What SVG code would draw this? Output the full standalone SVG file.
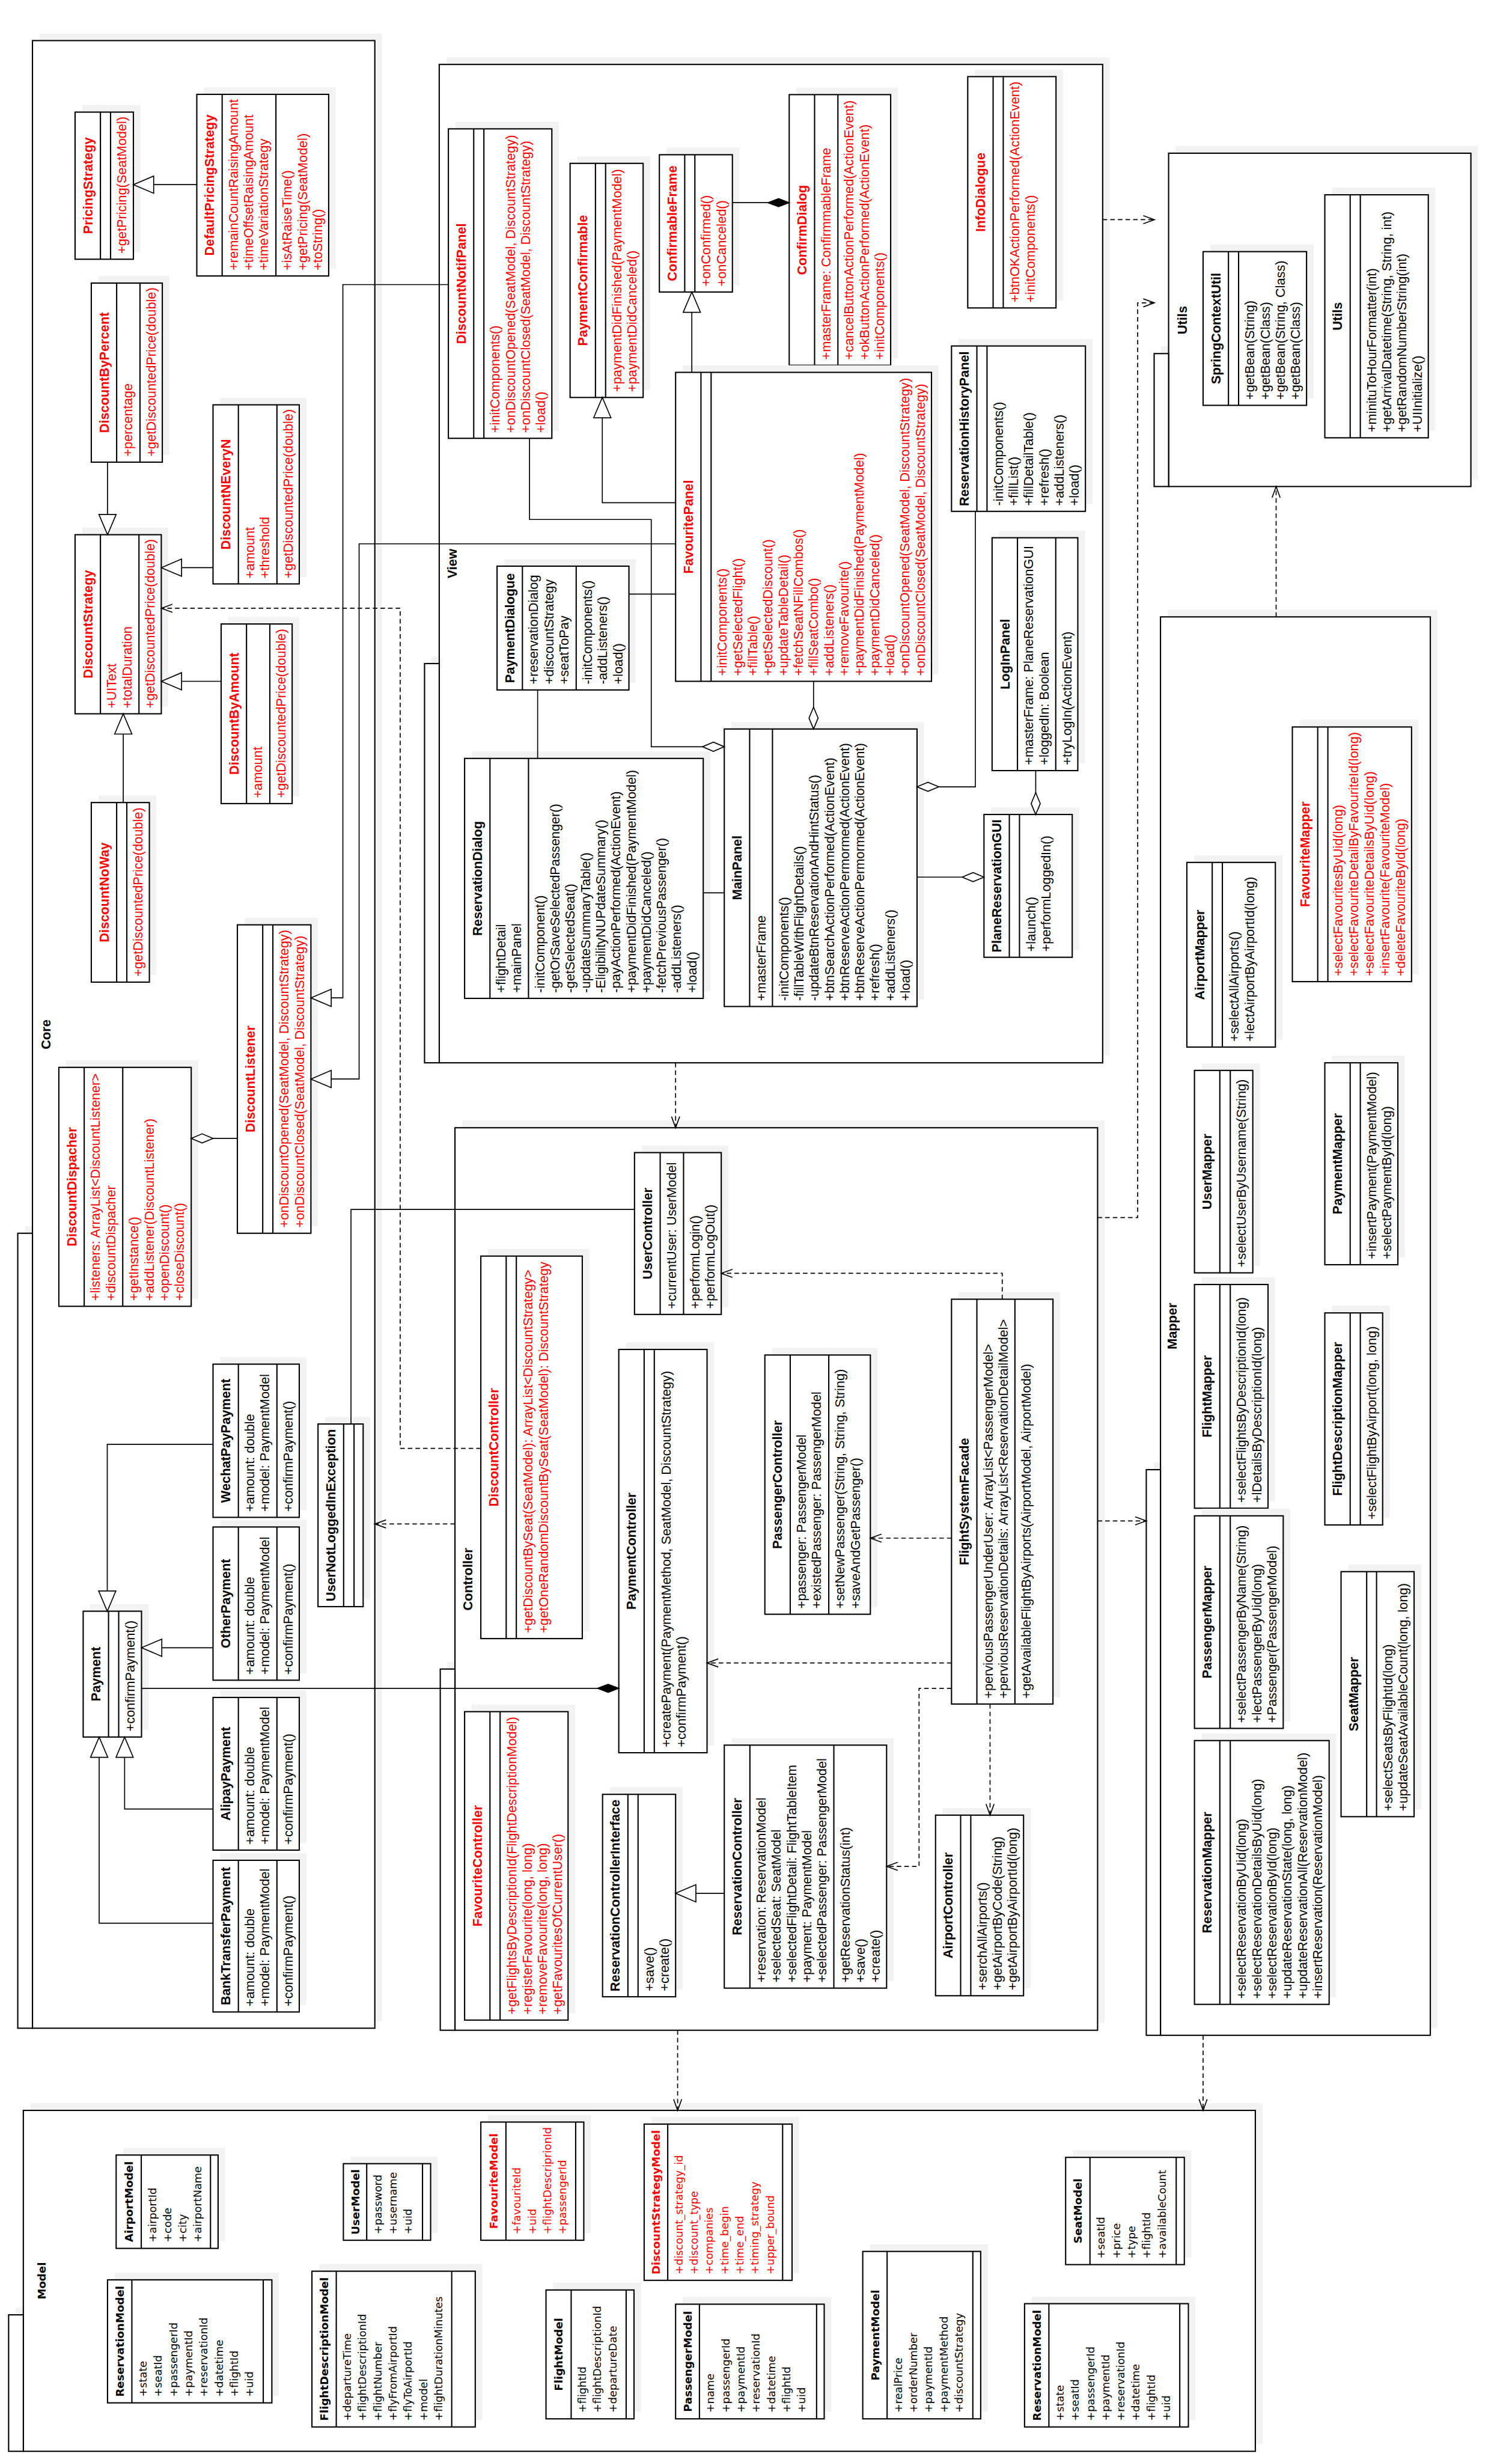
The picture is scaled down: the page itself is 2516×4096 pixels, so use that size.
<svg xmlns="http://www.w3.org/2000/svg" width="2516" height="4096" viewBox="0 0 2516 4096">
<defs>
<style>
.pk{fill:#fff;stroke:#000;stroke-width:2.5}
.sh{fill:#f2f2f2}
.bx{fill:#fff;stroke:#000;stroke-width:2.5}
.dv{fill:none;stroke:#000;stroke-width:2.5}
.n{font-family:"Liberation Sans",Arial,sans-serif;font-size:25.8px;font-weight:bold;text-anchor:middle}
.t{font-family:"Liberation Sans",Arial,sans-serif;font-size:25.8px}
.mn{font-family:"DejaVu Sans",sans-serif;font-size:21.5px;font-weight:bold;text-anchor:middle}
.mt{font-family:"DejaVu Sans",sans-serif;font-size:21px}
.r{fill:#f00}
.ln{fill:none;stroke:#000;stroke-width:2}
.ds{stroke-dasharray:9 6}
</style>
<marker id="tri" markerUnits="userSpaceOnUse" markerWidth="60" markerHeight="60" refX="40" refY="0" orient="auto" overflow="visible"><path d="M0-17L40 0L0 17Z" fill="#fff" stroke="#000" stroke-width="2"/></marker>
<marker id="dia" markerUnits="userSpaceOnUse" markerWidth="60" markerHeight="60" refX="43" refY="0" orient="auto" overflow="visible"><path d="M0 0L21.5-9L43 0L21.5 9Z" fill="#fff" stroke="#000" stroke-width="2"/></marker>
<marker id="fdia" markerUnits="userSpaceOnUse" markerWidth="60" markerHeight="60" refX="42" refY="0" orient="auto" overflow="visible"><path d="M0 0L21-8L42 0L21 8Z" fill="#000" stroke="#000" stroke-width="2"/></marker>
<marker id="arr" markerUnits="userSpaceOnUse" markerWidth="60" markerHeight="60" refX="22" refY="0" orient="auto" overflow="visible"><path d="M0-8L22 0L0 8" fill="none" stroke="#000" stroke-width="2"/></marker>
</defs>
<rect width="2516" height="4096" fill="#fff"/>
<g transform="scale(0.844)">
<g id="packages">
<rect class="sh" x="78" y="66" width="675" height="3918"/><rect class="sh" x="49" y="2417" width="29" height="1567"/>
<rect class="pk" x="64" y="80" width="675" height="3918"/><rect class="pk" x="35" y="2431" width="29" height="1567"/>
<text class="n" transform="translate(64 3998) rotate(-90)" x="1959" y="35">Core</text>
<rect class="sh" x="880" y="113" width="1308" height="1968"/><rect class="sh" x="851" y="1294" width="29" height="787"/>
<rect class="pk" x="866" y="127" width="1308" height="1968"/><rect class="pk" x="837" y="1308" width="29" height="787"/>
<text class="n" transform="translate(866 2095) rotate(-90)" x="984" y="34">View</text>
<rect class="sh" x="911" y="2209" width="1267" height="1779"/><rect class="sh" x="882" y="3276" width="29" height="712"/>
<rect class="pk" x="897" y="2223" width="1267" height="1779"/><rect class="pk" x="868" y="3290" width="29" height="712"/>
<text class="n" transform="translate(897 4002) rotate(-90)" x="889" y="34">Controller</text>
<rect class="sh" x="2318" y="288" width="596" height="657"/><rect class="sh" x="2289" y="683" width="29" height="262"/>
<rect class="pk" x="2304" y="302" width="596" height="657"/><rect class="pk" x="2275.5" y="697" width="28.5" height="262"/>
<text class="n" transform="translate(2304 959) rotate(-90)" x="328" y="36">Utils</text>
<rect class="sh" x="2302" y="1202" width="532" height="2796"/><rect class="sh" x="2274" y="2883" width="28" height="1115"/>
<rect class="pk" x="2288" y="1216" width="532" height="2796"/><rect class="pk" x="2260" y="2897" width="28" height="1115"/>
<text class="n" transform="translate(2288 4012) rotate(-90)" x="1398" y="32">Mapper</text>
<rect class="sh" x="60" y="4146" width="2429" height="672"/><rect class="sh" x="31" y="4549" width="29" height="269"/>
<rect class="pk" x="46" y="4160" width="2429" height="672"/><rect class="pk" x="17" y="4563" width="29" height="269"/>
<text class="mn" transform="translate(46 4832) rotate(-90)" x="336" y="44">Model</text>
</g>

<g id="PricingStrategy" transform="translate(148 511) rotate(-90)"><rect class="sh" x="14" y="14" width="290" height="115"/><rect class="bx" width="290" height="115"/><path class="dv" d="M0 50H290M0 70H290"/>
<text class="n r" x="145" y="34">PricingStrategy</text><text class="t r" x="11" y="101">+getPricing(SeatModel)</text></g>

<g id="DefaultPricingStrategy" transform="translate(388 544) rotate(-90)"><rect class="sh" x="14" y="14" width="358" height="260"/><rect class="bx" width="358" height="260"/><path class="dv" d="M0 50H358M0 156H358"/>
<text class="n r" x="179" y="34">DefaultPricingStrategy</text>
<text class="t r" x="11" y="81">+remainCountRaisingAmount</text><text class="t r" x="11" y="111">+timeOffsetRaisingAmount</text><text class="t r" x="11" y="141">+timeVariationStrategy</text>
<text class="t r" x="11" y="187">+isAtRaiseTime()</text><text class="t r" x="11" y="217">+getPricing(SeatModel)</text><text class="t r" x="11" y="247">+toString()</text></g>

<g id="DiscountByPercent" transform="translate(180 911) rotate(-90)"><rect class="sh" x="14" y="14" width="353" height="140"/><rect class="bx" width="353" height="140"/><path class="dv" d="M0 50H353M0 96H353"/>
<text class="n r" x="176.5" y="34">DiscountByPercent</text><text class="t r" x="11" y="81">+percentage</text><text class="t r" x="11" y="127">+getDiscountedPrice(double)</text></g>

<g id="DiscountNEveryN" transform="translate(420 1151) rotate(-90)"><rect class="sh" x="14" y="14" width="353" height="170"/><rect class="bx" width="353" height="170"/><path class="dv" d="M0 50H353M0 126H353"/>
<text class="n r" x="176.5" y="34">DiscountNEveryN</text><text class="t r" x="11" y="81">+amount</text><text class="t r" x="11" y="111">+threshold</text><text class="t r" x="11" y="157">+getDiscountedPrice(double)</text></g>

<g id="DiscountStrategy" transform="translate(148 1407) rotate(-90)"><rect class="sh" x="14" y="14" width="353" height="170"/><rect class="bx" width="353" height="170"/><path class="dv" d="M0 50H353M0 126H353"/>
<text class="n r" x="176.5" y="34">DiscountStrategy</text><text class="t r" x="11" y="81">+UIText</text><text class="t r" x="11" y="111">+totalDuration</text><text class="t r" x="11" y="157">+getDiscountedPrice(double)</text></g>

<g id="DiscountByAmount" transform="translate(436 1584) rotate(-90)"><rect class="sh" x="14" y="14" width="354" height="140"/><rect class="bx" width="354" height="140"/><path class="dv" d="M0 50H354M0 96H354"/>
<text class="n r" x="177" y="34">DiscountByAmount</text><text class="t r" x="11" y="81">+amount</text><text class="t r" x="11" y="127">+getDiscountedPrice(double)</text></g>

<g id="DiscountNoWay" transform="translate(180 1936) rotate(-90)"><rect class="sh" x="14" y="14" width="354" height="114.5"/><rect class="bx" width="354" height="114.5"/><path class="dv" d="M0 50H354M0 70H354"/>
<text class="n r" x="177" y="34">DiscountNoWay</text><text class="t r" x="11" y="101">+getDiscountedPrice(double)</text></g>

<g id="DiscountListener" transform="translate(468 2431) rotate(-90)"><rect class="sh" x="14" y="14" width="608" height="145"/><rect class="bx" width="608" height="145"/><path class="dv" d="M0 50H608M0 70H608"/>
<text class="n r" x="304" y="34">DiscountListener</text><text class="t r" x="11" y="101">+onDiscountOpened(SeatModel, DiscountStrategy)</text><text class="t r" x="11" y="131">+onDiscountClosed(SeatModel, DiscountStrategy)</text></g>

<g id="DiscountDispacher" transform="translate(116 2575) rotate(-90)"><rect class="sh" x="14" y="14" width="471" height="261"/><rect class="bx" width="471" height="261"/><path class="dv" d="M0 50H471M0 126H471"/>
<text class="n r" x="235.5" y="34">DiscountDispacher</text><text class="t r" x="11" y="81">+listeners: ArrayList&lt;DiscountListener&gt;</text><text class="t r" x="11" y="111">+discountDispacher</text>
<text class="t r" x="11" y="157">+getInstance()</text><text class="t r" x="11" y="187">+addListener(DiscountListener)</text><text class="t r" x="11" y="217">+openDiscount()</text><text class="t r" x="11" y="247">+closeDiscount()</text></g>

<g id="Payment" transform="translate(164 3424) rotate(-90)"><rect class="sh" x="14" y="14" width="248" height="115"/><rect class="bx" width="248" height="115"/><path class="dv" d="M0 50H248M0 70H248"/>
<text class="n" x="124" y="34">Payment</text><text class="t" x="11" y="101">+confirmPayment()</text></g>

<g id="WechatPayPayment" transform="translate(420 2991) rotate(-90)"><rect class="sh" x="14" y="14" width="302" height="170"/><rect class="bx" width="302" height="170"/><path class="dv" d="M0 50H302M0 126H302"/>
<text class="n" x="151" y="34">WechatPayPayment</text><text class="t" x="11" y="81">+amount: double</text><text class="t" x="11" y="111">+model: PaymentModel</text><text class="t" x="11" y="157">+confirmPayment()</text></g>

<g id="OtherPayment" transform="translate(420 3312) rotate(-90)"><rect class="sh" x="14" y="14" width="302" height="170"/><rect class="bx" width="302" height="170"/><path class="dv" d="M0 50H302M0 126H302"/>
<text class="n" x="151" y="34">OtherPayment</text><text class="t" x="11" y="81">+amount: double</text><text class="t" x="11" y="111">+model: PaymentModel</text><text class="t" x="11" y="157">+confirmPayment()</text></g>

<g id="AlipayPayment" transform="translate(420 3647) rotate(-90)"><rect class="sh" x="14" y="14" width="301" height="170"/><rect class="bx" width="301" height="170"/><path class="dv" d="M0 50H301M0 126H301"/>
<text class="n" x="150.5" y="34">AlipayPayment</text><text class="t" x="11" y="81">+amount: double</text><text class="t" x="11" y="111">+model: PaymentModel</text><text class="t" x="11" y="157">+confirmPayment()</text></g>

<g id="BankTransferPayment" transform="translate(420 3966) rotate(-90)"><rect class="sh" x="14" y="14" width="299" height="170"/><rect class="bx" width="299" height="170"/><path class="dv" d="M0 50H299M0 126H299"/>
<text class="n" x="149.5" y="34">BankTransferPayment</text><text class="t" x="11" y="81">+amount: double</text><text class="t" x="11" y="111">+model: PaymentModel</text><text class="t" x="11" y="157">+confirmPayment()</text></g>

<g id="UserNotLoggedInException" transform="translate(627 3167) rotate(-90)"><rect class="sh" x="14" y="14" width="360" height="89"/><rect class="bx" width="360" height="89"/><path class="dv" d="M0 50.5H360M0 71H360"/>
<text class="n" x="180" y="34">UserNotLoggedInException</text></g>

<g id="DiscountNotifPanel" transform="translate(884 864) rotate(-90)"><rect class="sh" x="14" y="14" width="610" height="204"/><rect class="bx" width="610" height="204"/><path class="dv" d="M0 50H610M0 70H610"/>
<text class="n r" x="305" y="34">DiscountNotifPanel</text><text class="t r" x="11" y="101">+initComponents()</text><text class="t r" x="11" y="131">+onDiscountOpened(SeatModel, DiscountStrategy)</text><text class="t r" x="11" y="161">+onDiscountClosed(SeatModel, DiscountStrategy)</text><text class="t r" x="11" y="191">+load()</text></g>

<g id="PaymentConfirmable" transform="translate(1124 783.5) rotate(-90)"><rect class="sh" x="14" y="14" width="461.5" height="144"/><rect class="bx" width="461.5" height="144"/><path class="dv" d="M0 50H461.5M0 70H461.5"/>
<text class="n r" x="230.7" y="34">PaymentConfirmable</text><text class="t r" x="11" y="101">+paymentDidFinished(PaymentModel)</text><text class="t r" x="11" y="131">+paymentDidCanceled()</text></g>

<g id="ConfirmableFrame" transform="translate(1300 575.6) rotate(-90)"><rect class="sh" x="14" y="14" width="270.6" height="144"/><rect class="bx" width="270.6" height="144"/><path class="dv" d="M0 50H270.6M0 70H270.6"/>
<text class="n r" x="135.3" y="34">ConfirmableFrame</text><text class="t r" x="11" y="101">+onConfirmed()</text><text class="t r" x="11" y="131">+onCanceled()</text></g>

<g id="ConfirmDialog" transform="translate(1556 720) rotate(-90)"><rect class="sh" x="14" y="14" width="533.5" height="200"/><rect class="bx" width="533.5" height="200"/><path class="dv" d="M0 50H533.5M0 96H533.5"/>
<text class="n r" x="266.7" y="34">ConfirmDialog</text><text class="t r" x="11" y="81">+masterFrame: ConfirmmableFrame</text>
<text class="t r" x="11" y="127">+cancelButtonActionPerformed(ActionEvent)</text><text class="t r" x="11" y="157">+okButtonActionPerformed(ActionEvent)</text><text class="t r" x="11" y="187">+initComponents()</text></g>

<g id="InfoDialogue" transform="translate(1908 607) rotate(-90)"><rect class="sh" x="14" y="14" width="456" height="174"/><rect class="bx" width="456" height="174"/><path class="dv" d="M0 50H456M0 70H456"/>
<text class="n r" x="228" y="34">InfoDialogue</text><text class="t r" x="11" y="102">+btnOKActionPerformed(ActionEvent)</text><text class="t r" x="11" y="132">+initComponents()</text></g>

<g id="FavouritePanel" transform="translate(1332 1343) rotate(-90)"><rect class="sh" x="14" y="14" width="609" height="504.5"/><rect class="bx" width="609" height="504.5"/><path class="dv" d="M0 50H609M0 70H609"/>
<text class="n r" x="304.5" y="34">FavouritePanel</text>
<text class="t r" x="11" y="101">+initComponents()</text><text class="t r" x="11" y="131">+getSelectedFlight()</text><text class="t r" x="11" y="161">+fillTable()</text><text class="t r" x="11" y="191">+getSelectedDiscount()</text><text class="t r" x="11" y="221">+updateTableDetail()</text><text class="t r" x="11" y="251">+fetchSeatNFillCombos()</text><text class="t r" x="11" y="281">+fillSeatCombo()</text><text class="t r" x="11" y="311">+addListeners()</text><text class="t r" x="11" y="341">+removeFavourite()</text><text class="t r" x="11" y="371">+paymentDidFinished(PaymentModel)</text><text class="t r" x="11" y="401">+paymentDidCanceled()</text><text class="t r" x="11" y="431">+load()</text><text class="t r" x="11" y="461">+onDiscountOpened(SeatModel, DiscountStrategy)</text><text class="t r" x="11" y="491">+onDiscountClosed(SeatModel, DiscountStrategy)</text></g>

<g id="ReservationHistoryPanel" transform="translate(1876 1008) rotate(-90)"><rect class="sh" x="14" y="14" width="326" height="264"/><rect class="bx" width="326" height="264"/><path class="dv" d="M0 50H326M0 70H326"/>
<text class="n" x="163" y="34">ReservationHistoryPanel</text><text class="t" x="11" y="101">-initComponents()</text><text class="t" x="11" y="131">+fillList()</text><text class="t" x="11" y="161">+fillDetailTable()</text><text class="t" x="11" y="191">+refresh()</text><text class="t" x="11" y="221">+addListeners()</text><text class="t" x="11" y="251">+load()</text></g>

<g id="PaymentDialogue" transform="translate(980 1360) rotate(-90)"><rect class="sh" x="14" y="14" width="244" height="260"/><rect class="bx" width="244" height="260"/><path class="dv" d="M0 50H244M0 156H244"/>
<text class="n" x="122" y="34">PaymentDialogue</text><text class="t" x="11" y="81">+reservationDialog</text><text class="t" x="11" y="111">+discountStrategy</text><text class="t" x="11" y="141">+seatToPay</text>
<text class="t" x="11" y="187">-initComponents()</text><text class="t" x="11" y="217">-addListeners()</text><text class="t" x="11" y="247">+load()</text></g>

<g id="LogInPanel" transform="translate(1956 1519) rotate(-90)"><rect class="sh" x="14" y="14" width="459" height="169"/><rect class="bx" width="459" height="169"/><path class="dv" d="M0 50H459M0 125.5H459"/>
<text class="n" x="229.5" y="34">LogInPanel</text><text class="t" x="11" y="81">+masterFrame: PlaneReservationGUI</text><text class="t" x="11" y="111">+loggedIn: Boolean</text><text class="t" x="11" y="156.5">+tryLogIn(ActionEvent)</text></g>

<g id="ReservationDialog" transform="translate(916 1968) rotate(-90)"><rect class="sh" x="14" y="14" width="473" height="470.5"/><rect class="bx" width="473" height="470.5"/><path class="dv" d="M0 50H473M0 126H473"/>
<text class="n" x="236.5" y="34">ReservationDialog</text><text class="t" x="11" y="81">+flightDetail</text><text class="t" x="11" y="111">+mainPanel</text>
<text class="t" x="11" y="157">-initComponent()</text><text class="t" x="11" y="187">-getOrSaveSelectedPassenger()</text><text class="t" x="11" y="217">-getSelectedSeat()</text><text class="t" x="11" y="247">-updateSummaryTable()</text><text class="t" x="11" y="277">-EligibilityNUPdateSummary()</text><text class="t" x="11" y="307">-payActionPerformed(ActionEvent)</text><text class="t" x="11" y="337">+paymentDidFinished(PaymentModel)</text><text class="t" x="11" y="367">+paymentDidCanceled()</text><text class="t" x="11" y="397">-fetchPreviousPassenger()</text><text class="t" x="11" y="427">-addListeners()</text><text class="t" x="11" y="457">+load()</text></g>

<g id="MainPanel" transform="translate(1428 1984) rotate(-90)"><rect class="sh" x="14" y="14" width="547" height="380"/><rect class="bx" width="547" height="380"/><path class="dv" d="M0 50H547M0 95H547"/>
<text class="n" x="273.5" y="34">MainPanel</text><text class="t" x="11" y="81">+masterFrame</text>
<text class="t" x="11" y="126">-initComponents()</text><text class="t" x="11" y="156">-fillTableWithFlightDetails()</text><text class="t" x="11" y="186">-updateBtnReservationAndHintStatus()</text><text class="t" x="11" y="216">+btnSearchActionPerformed(ActionEvent)</text><text class="t" x="11" y="246">+btnReserveActionPermormed(ActionEvent)</text><text class="t" x="11" y="276">+btnReserveActionPermormed(ActionEvent)</text><text class="t" x="11" y="306">+refresh()</text><text class="t" x="11" y="336">+addListeners()</text><text class="t" x="11" y="366">+load()</text></g>

<g id="PlaneReservationGUI" transform="translate(1940 1887) rotate(-90)"><rect class="sh" x="14" y="14" width="281.5" height="174"/><rect class="bx" width="281.5" height="174"/><path class="dv" d="M0 50H281.5M0 70H281.5"/>
<text class="n" x="140.7" y="34">PlaneReservationGUI</text><text class="t" x="11" y="101">+launch()</text><text class="t" x="11" y="131">+performLoggedIn()</text></g>

<g id="UserController" transform="translate(1251 2591) rotate(-90)"><rect class="sh" x="14" y="14" width="319" height="171"/><rect class="bx" width="319" height="171"/><path class="dv" d="M0 50.6H319M0 96.7H319"/>
<text class="n" x="159.5" y="34">UserController</text><text class="t" x="11" y="81.6">+currentUser: UserModel</text><text class="t" x="11" y="127.7">+performLogin()</text><text class="t" x="11" y="157.7">+performLogOut()</text></g>

<g id="DiscountController" transform="translate(948 3230) rotate(-90)"><rect class="sh" x="14" y="14" width="754" height="200"/><rect class="bx" width="754" height="200"/><path class="dv" d="M0 50H754M0 70H754"/>
<text class="n r" x="377" y="34">DiscountController</text><text class="t r" x="11" y="102">+getDiscountBySeat(SeatModel): ArrayList&lt;DiscountStrategy&gt;</text><text class="t r" x="11" y="132">+getOneRandomDiscountBySeat(SeatModel): DiscountStrategy</text></g>

<g id="PaymentController" transform="translate(1220 3455) rotate(-90)"><rect class="sh" x="14" y="14" width="795" height="174"/><rect class="bx" width="795" height="174"/><path class="dv" d="M0 50H795M0 70H795"/>
<text class="n" x="397.5" y="34">PaymentController</text><text class="t" x="11" y="102">+createPayment(PaymentMethod, SeatModel, DiscountStrategy)</text><text class="t" x="11" y="132">+confirmPayment()</text></g>

<g id="FavouriteController" transform="translate(916 3982) rotate(-90)"><rect class="sh" x="14" y="14" width="608" height="204"/><rect class="bx" width="608" height="204"/><path class="dv" d="M0 50H608M0 70H608"/>
<text class="n r" x="304" y="34">FavouriteController</text><text class="t r" x="11" y="102">+getFlightsByDescriptionId(FlightDescriptionModel)</text><text class="t r" x="11" y="132">+registerFavourite(long, long)</text><text class="t r" x="11" y="162">+removeFavourite(long, long)</text><text class="t r" x="11" y="192">+getFavouritesOfCurrentUser()</text></g>

<g id="ReservationControllerInterface" transform="translate(1188 3936) rotate(-90)"><rect class="sh" x="14" y="14" width="399" height="144"/><rect class="bx" width="399" height="144"/><path class="dv" d="M0 50H399M0 70H399"/>
<text class="n" x="199.5" y="34">ReservationControllerInterface</text><text class="t" x="11" y="101">+save()</text><text class="t" x="11" y="131">+create()</text></g>

<g id="ReservationController" transform="translate(1428 3919) rotate(-90)"><rect class="sh" x="14" y="14" width="479" height="320"/><rect class="bx" width="479" height="320"/><path class="dv" d="M0 50.5H479M0 216H479"/>
<text class="n" x="239.5" y="34">ReservationController</text><text class="t" x="11" y="81.5">+reservation: ReservationModel</text><text class="t" x="11" y="111.5">+selectedSeat: SeatModel</text><text class="t" x="11" y="141.5">+selectedFlightDetail: FlightTableItem</text><text class="t" x="11" y="171.5">+payment: PaymentModel</text><text class="t" x="11" y="201.5">+selectedPassenger: PassengerModel</text>
<text class="t" x="11" y="247">+getReservationStatus(int)</text><text class="t" x="11" y="277">+save()</text><text class="t" x="11" y="307">+create()</text></g>

<g id="PassengerController" transform="translate(1508 3182) rotate(-90)"><rect class="sh" x="14" y="14" width="511" height="208"/><rect class="bx" width="511" height="208"/><path class="dv" d="M0 50H511M0 126H511"/>
<text class="n" x="255.5" y="34">PassengerController</text><text class="t" x="11" y="81">+passenger: PassengerModel</text><text class="t" x="11" y="111">+existedPassenger: PassengerModel</text><text class="t" x="11" y="157">+setNewPassenger(String, String, String)</text><text class="t" x="11" y="187">+saveAndGetPassenger()</text></g>

<g id="FlightSystemFacade" transform="translate(1876 3359) rotate(-90)"><rect class="sh" x="14" y="14" width="798" height="200"/><rect class="bx" width="798" height="200"/><path class="dv" d="M0 50H798M0 125H798"/>
<text class="n" x="399" y="34">FlightSystemFacade</text><text class="t" x="11" y="81">+perviousPassengerUnderUser: ArrayList&lt;PassengerModel&gt;</text><text class="t" x="11" y="111">+perviousReservationDetails: ArrayList&lt;ReservationDetailModel&gt;</text><text class="t" x="11" y="156">+getAvailableFlightByAirports(AirportModel, AirportModel)</text></g>

<g id="AirportController" transform="translate(1844.5 3934) rotate(-90)"><rect class="sh" x="14" y="14" width="356" height="173.5"/><rect class="bx" width="356" height="173.5"/><path class="dv" d="M0 49.5H356M0 69.5H356"/>
<text class="n" x="178" y="34">AirportController</text><text class="t" x="11" y="100.5">+serchAllAirports()</text><text class="t" x="11" y="130.5">+getAirportByCode(String)</text><text class="t" x="11" y="160.5">+getAirportByAirportId(long)</text></g>

<g id="SpringContextUtil" transform="translate(2372 799) rotate(-90)"><rect class="sh" x="14" y="14" width="303" height="204"/><rect class="bx" width="303" height="204"/><path class="dv" d="M0 50H303M0 70H303"/>
<text class="n" x="151.5" y="34">SpringContextUtil</text><text class="t" x="11" y="101">+getBean(String)</text><text class="t" x="11" y="131">+getBean(Class)</text><text class="t" x="11" y="161">+getBean(String, Class)</text><text class="t" x="11" y="191">+getBean(Class)</text></g>

<g id="UtilsClass" transform="translate(2612 863) rotate(-90)"><rect class="sh" x="14" y="14" width="479" height="204"/><rect class="bx" width="479" height="204"/><path class="dv" d="M0 50H479M0 70H479"/>
<text class="n" x="239.5" y="34">Utils</text><text class="t" x="11" y="101">+minituToHourFormatter(int)</text><text class="t" x="11" y="131">+getArrivalDatetime(String, String, int)</text><text class="t" x="11" y="161">+getRandomNumberString(int)</text><text class="t" x="11" y="191">+UIInitialize()</text></g>

<g id="AirportMapper" transform="translate(2340 2064) rotate(-90)"><rect class="sh" x="14" y="14" width="364" height="174.5"/><rect class="bx" width="364" height="174.5"/><path class="dv" d="M0 50H364M0 70H364"/>
<text class="n" x="182" y="34">AirportMapper</text><text class="t" x="11" y="102">+selectAllAirports()</text><text class="t" x="11" y="133">+lectAirportByAirportId(long)</text></g>

<g id="FavouriteMapper" transform="translate(2548 1935) rotate(-90)"><rect class="sh" x="14" y="14" width="502" height="235"/><rect class="bx" width="502" height="235"/><path class="dv" d="M0 50H502M0 70H502"/>
<text class="n r" x="251" y="34">FavouriteMapper</text><text class="t r" x="11" y="99">+selectFavouritesByUid(long)</text><text class="t r" x="11" y="130">+selectFavouriteDetailByFavouriteId(long)</text><text class="t r" x="11" y="161">+selectFavouriteDetailsByUid(long)</text><text class="t r" x="11" y="191">+insertFavourite(FavouriteModel)</text><text class="t r" x="11" y="222">+deleteFavouriteById(long)</text></g>

<g id="UserMapper" transform="translate(2355 2509) rotate(-90)"><rect class="sh" x="14" y="14" width="399" height="115"/><rect class="bx" width="399" height="115"/><path class="dv" d="M0 50H399M0 70.6H399"/>
<text class="n" x="199.5" y="34">UserMapper</text><text class="t" x="11" y="101.6">+selectUserByUsername(String)</text></g>

<g id="PaymentMapper" transform="translate(2612 2493) rotate(-90)"><rect class="sh" x="14" y="14" width="398" height="144"/><rect class="bx" width="398" height="144"/><path class="dv" d="M0 50H398M0 70H398"/>
<text class="n" x="199" y="34">PaymentMapper</text><text class="t" x="11" y="101">+insertPayment(PaymentModel)</text><text class="t" x="11" y="131">+selectPaymentById(long)</text></g>

<g id="FlightMapper" transform="translate(2355 2973) rotate(-90)"><rect class="sh" x="14" y="14" width="441" height="145"/><rect class="bx" width="441" height="145"/><path class="dv" d="M0 50H441M0 70.6H441"/>
<text class="n" x="220.5" y="34">FlightMapper</text><text class="t" x="11" y="101.6">+selectFlightsByDescriptionId(long)</text><text class="t" x="11" y="131.6">+lDetailsByDescriptionId(long)</text></g>

<g id="FlightDescriptionMapper" transform="translate(2612 3006) rotate(-90)"><rect class="sh" x="14" y="14" width="418" height="114"/><rect class="bx" width="418" height="114"/><path class="dv" d="M0 50H418M0 70H418"/>
<text class="n" x="209" y="34">FlightDescriptionMapper</text><text class="t" x="11" y="101">+selectFlightByAirport(long, long)</text></g>

<g id="PassengerMapper" transform="translate(2355 3407) rotate(-90)"><rect class="sh" x="14" y="14" width="419" height="175"/><rect class="bx" width="419" height="175"/><path class="dv" d="M0 50H419M0 70.6H419"/>
<text class="n" x="209.5" y="34">PassengerMapper</text><text class="t" x="11" y="101.6">+selectPassengerByName(String)</text><text class="t" x="11" y="131.6">+lectPassengerByUid(long)</text><text class="t" x="11" y="161.6">+Passenger(PassengerModel)</text></g>

<g id="SeatMapper" transform="translate(2644 3581) rotate(-90)"><rect class="sh" x="14" y="14" width="483" height="144"/><rect class="bx" width="483" height="144"/><path class="dv" d="M0 50.5H483M0 70H483"/>
<text class="n" x="241.5" y="34">SeatMapper</text><text class="t" x="11" y="101">+selectSeatsByFlightId(long)</text><text class="t" x="11" y="131">+updateSeatAvailableCount(long, long)</text></g>

<g id="ReservationMapper" transform="translate(2355 3951) rotate(-90)"><rect class="sh" x="14" y="14" width="520" height="265.5"/><rect class="bx" width="520" height="265.5"/><path class="dv" d="M0 50H520M0 70.6H520"/>
<text class="n" x="260" y="34">ReservationMapper</text><text class="t" x="11" y="101.6">+selectReservationByUid(long)</text><text class="t" x="11" y="131.6">+selectReservationDetailsByUid(long)</text><text class="t" x="11" y="161.6">+selectReservationById(long)</text><text class="t" x="11" y="191.6">+updateReservationState(long, long)</text><text class="t" x="11" y="221.6">+updateReservationAll(ReservationModel)</text><text class="t" x="11" y="251.6">+insertReservation(ReservationModel)</text></g>

<g id="AirportModel" transform="translate(229 4432) rotate(-90)"><rect class="sh" x="14" y="14" width="184" height="201"/><rect class="bx" width="184" height="201"/><path class="dv" d="M0 49.5H184M0 186H184"/>
<text class="mn" x="92" y="33">AirportModel</text><text class="mt" x="12" y="78.5">+airportId</text><text class="mt" x="12" y="108.5">+code</text><text class="mt" x="12" y="138.5">+city</text><text class="mt" x="12" y="168.5">+airportName</text></g>

<g id="UserModel" transform="translate(677 4416) rotate(-90)"><rect class="sh" x="14" y="14" width="151" height="172"/><rect class="bx" width="151" height="172"/><path class="dv" d="M0 46H151M0 156H151"/>
<text class="mn" x="75.5" y="31">UserModel</text><text class="mt" x="12" y="75">+password</text><text class="mt" x="12" y="105">+username</text><text class="mt" x="12" y="135">+uid</text></g>

<g id="FavouriteModel" transform="translate(948 4416) rotate(-90)"><rect class="sh" x="14" y="14" width="233" height="203"/><rect class="bx" width="233" height="203"/><path class="dv" d="M0 49.5H233M0 187H233"/>
<text class="mn r" x="116.5" y="33">FavouriteModel</text><text class="mt r" x="12" y="78.5">+favouriteId</text><text class="mt r" x="12" y="108.5">+uid</text><text class="mt r" x="12" y="138.5">+flightDescriprionId</text><text class="mt r" x="12" y="168.5">+passengerId</text></g>

<g id="DiscountStrategyModel" transform="translate(1270 4495) rotate(-90)"><rect class="sh" x="14" y="14" width="308" height="291.6"/><rect class="bx" width="308" height="291.6"/><path class="dv" d="M0 46.5H308M0 273H308"/>
<text class="mn r" x="154" y="31">DiscountStrategyModel</text><text class="mt r" x="12" y="75.5">+discount_strategy_id</text><text class="mt r" x="12" y="105.5">+discount_type</text><text class="mt r" x="12" y="135.5">+companies</text><text class="mt r" x="12" y="165.5">+time_begin</text><text class="mt r" x="12" y="195.5">+time_end</text><text class="mt r" x="12" y="225.5">+timing_strategy</text><text class="mt r" x="12" y="255.5">+upper_bound</text></g>

<g id="ReservationModel" transform="translate(212 4736.5) rotate(-90)"><rect class="sh" x="14" y="14" width="242.5" height="324"/><rect class="bx" width="242.5" height="324"/><path class="dv" d="M0 48H242.5M0 307H242.5"/>
<text class="mn" x="121.2" y="32">ReservationModel</text><text class="mt" x="12" y="77">+state</text><text class="mt" x="12" y="107">+seatId</text><text class="mt" x="12" y="137">+passengerId</text><text class="mt" x="12" y="167">+paymentId</text><text class="mt" x="12" y="197">+reservationId</text><text class="mt" x="12" y="227">+datetime</text><text class="mt" x="12" y="257">+flightId</text><text class="mt" x="12" y="287">+uid</text></g>

<g id="FlightDescriptionModel" transform="translate(615 4784) rotate(-90)"><rect class="sh" x="14" y="14" width="307" height="322"/><rect class="bx" width="307" height="322"/><path class="dv" d="M0 48H307M0 275.6H307"/>
<text class="mn" x="153.5" y="32">FlightDescriptionModel</text><text class="mt" x="12" y="77">+departureTime</text><text class="mt" x="12" y="107">+flightDescriptionId</text><text class="mt" x="12" y="137">+flightNumber</text><text class="mt" x="12" y="167">+flyFromAirportId</text><text class="mt" x="12" y="197">+flyToAirportId</text><text class="mt" x="12" y="227">+model</text><text class="mt" x="12" y="257">+flightDurationMinutes</text></g>

<g id="FlightModel" transform="translate(1076.5 4768) rotate(-90)"><rect class="sh" x="14" y="14" width="254" height="173.5"/><rect class="bx" width="254" height="173.5"/><path class="dv" d="M0 49.6H254M0 158H254"/>
<text class="mn" x="127" y="33">FlightModel</text><text class="mt" x="12" y="78.6">+flightId</text><text class="mt" x="12" y="108.6">+flightDescriptionId</text><text class="mt" x="12" y="138.6">+departureDate</text></g>

<g id="PassengerModel" transform="translate(1332 4768) rotate(-90)"><rect class="sh" x="14" y="14" width="226" height="293"/><rect class="bx" width="226" height="293"/><path class="dv" d="M0 47H226M0 278H226"/>
<text class="mn" x="113" y="32">PassengerModel</text><text class="mt" x="12" y="76">+name</text><text class="mt" x="12" y="106">+passengerId</text><text class="mt" x="12" y="136">+paymentId</text><text class="mt" x="12" y="166">+reservationId</text><text class="mt" x="12" y="196">+datetime</text><text class="mt" x="12" y="226">+flightId</text><text class="mt" x="12" y="256">+uid</text></g>

<g id="PaymentModel" transform="translate(1701 4768) rotate(-90)"><rect class="sh" x="14" y="14" width="330" height="232.5"/><rect class="bx" width="330" height="232.5"/><path class="dv" d="M0 48H330M0 217H330"/>
<text class="mn" x="165" y="32">PaymentModel</text><text class="mt" x="12" y="77">+realPrice</text><text class="mt" x="12" y="107">+orderNumber</text><text class="mt" x="12" y="137">+paymentId</text><text class="mt" x="12" y="167">+paymentMethod</text><text class="mt" x="12" y="197">+discountStrategy</text></g>

<g id="SeatModel" transform="translate(2101 4464) rotate(-90)"><rect class="sh" x="14" y="14" width="211.4" height="234"/><rect class="bx" width="211.4" height="234"/><path class="dv" d="M0 48H211.4M0 218H211.4"/>
<text class="mn" x="105.7" y="32">SeatModel</text><text class="mt" x="12" y="77">+seatId</text><text class="mt" x="12" y="107">+price</text><text class="mt" x="12" y="137">+type</text><text class="mt" x="12" y="167">+flightId</text><text class="mt" x="12" y="197">+availableCount</text></g>

<g id="ReservationModel2" transform="translate(2020 4784) rotate(-90)"><rect class="sh" x="14" y="14" width="243" height="323"/><rect class="bx" width="243" height="323"/><path class="dv" d="M0 48H243M0 306H243"/>
<text class="mn" x="121.5" y="32">ReservationModel</text><text class="mt" x="12" y="77">+state</text><text class="mt" x="12" y="107">+seatId</text><text class="mt" x="12" y="137">+passengerId</text><text class="mt" x="12" y="167">+paymentId</text><text class="mt" x="12" y="197">+reservationId</text><text class="mt" x="12" y="227">+datetime</text><text class="mt" x="12" y="257">+flightId</text><text class="mt" x="12" y="287">+uid</text></g>

<g id="connectors">
<path class="ln" marker-end="url(#tri)" d="M388 364H263"/>
<path class="ln" marker-end="url(#tri)" d="M212 911V1054"/>
<path class="ln" marker-end="url(#tri)" d="M420 1119H318"/>
<path class="ln" marker-end="url(#tri)" d="M436 1343H318"/>
<path class="ln" marker-end="url(#tri)" d="M243 1582V1407"/>
<path class="ln" marker-end="url(#tri)" d="M420 2847H211.5V3176"/>
<path class="ln" marker-end="url(#tri)" d="M420 3248H279"/>
<path class="ln" marker-end="url(#tri)" d="M420 3566H245.7V3424"/>
<path class="ln" marker-end="url(#tri)" d="M420 3791H195.5V3424"/>
<path class="ln" marker-end="url(#tri)" d="M884 561H676V1967H613"/>
<path class="ln" marker-end="url(#tri)" d="M1332 1072H708V2127H613"/>
<path class="ln" marker-end="url(#tri)" d="M1332 991H1187.5V783.5"/>
<path class="ln" marker-end="url(#tri)" d="M1364 734V575.6"/>
<path class="ln" marker-end="url(#tri)" d="M1428 3732H1332"/>
<path class="ln" marker-end="url(#dia)" d="M468 2244H377"/>
<path class="ln" marker-end="url(#dia)" d="M1044 864V1024H1284V1472H1428"/>
<path class="ln" marker-end="url(#dia)" d="M1604 1343V1437"/>
<path class="ln" marker-end="url(#dia)" d="M1923 1008V1551H1808"/>
<path class="ln" marker-end="url(#dia)" d="M2042 1519V1605.5"/>
<path class="ln" marker-end="url(#dia)" d="M1808 1729H1940"/>
<path class="ln" marker-end="url(#fdia)" d="M1444 399.5H1556"/>
<path class="ln" marker-end="url(#fdia)" d="M279 3328H1220"/>
<path class="ln" d="M1060 1360V1495"/>
<path class="ln" d="M1386.5 1760H1428"/>
<path class="ln" d="M1240 1171H1332"/>
<path class="ln" d="M692 2807V2384H1251"/>
<path class="ln ds" marker-end="url(#arr)" d="M1976 2561V2510H1422"/>
<path class="ln ds" marker-end="url(#arr)" d="M1876 3032H1716"/>
<path class="ln ds" marker-end="url(#arr)" d="M1876 3278H1394"/>
<path class="ln ds" marker-end="url(#arr)" d="M1876 3328H1812V3679H1748"/>
<path class="ln ds" marker-end="url(#arr)" d="M1952 3359V3578"/>
<path class="ln ds" marker-end="url(#arr)" d="M948 2855H789V1199H318"/>
<path class="ln ds" marker-end="url(#arr)" d="M1332 2095V2223"/>
<path class="ln ds" marker-end="url(#arr)" d="M1336 4002V4160"/>
<path class="ln ds" marker-end="url(#arr)" d="M2372 4012V4160"/>
<path class="ln ds" marker-end="url(#arr)" d="M2516 1216V959"/>
<path class="ln ds" marker-end="url(#arr)" d="M897 3004H739"/>
<path class="ln ds" marker-end="url(#arr)" d="M2164 2998H2260"/>
<path class="ln ds" marker-end="url(#arr)" d="M2164 2400H2243V597H2276"/>
<path class="ln ds" marker-end="url(#arr)" d="M2174 433H2276"/>
</g>
</g>
</svg>
